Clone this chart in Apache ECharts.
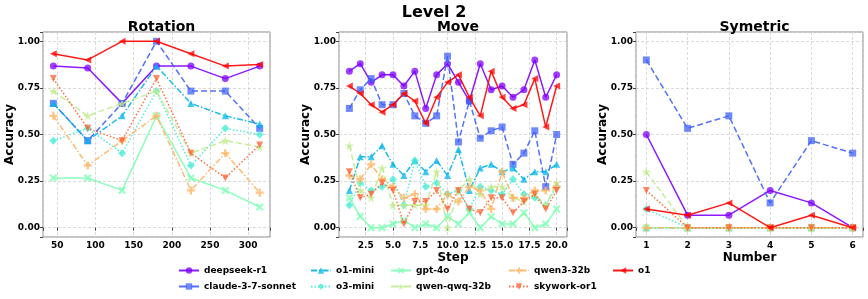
<!DOCTYPE html>
<html><head><meta charset="utf-8">
<script src="https://cdn.jsdelivr.net/npm/echarts@6/dist/echarts.min.js"></script>
<style>html,body{margin:0;padding:0;background:#fff}#c{width:868px;height:299px}</style>
</head><body><div id="c"></div>
<script>
const models = ['deepseek-r1','claude-3-7-sonnet','o1-mini','o3-mini','gpt-4o','qwen-qwq-32b','qwen3-32b','skywork-or1','o1'];
const rotationX = [45, 90, 135, 180, 225, 270, 315];
const moveX = [1,2,3,4,5,6,7,8,9,10,11,12,13,14,15,16,17,18,19,20];
const symX = [1,2,3,4,5,6];

const rotDeepseek = [0.867,0.857,0.667,0.867,0.867,0.8,0.867];
const rotClaude   = [0.667,0.467,0.667,1.0,0.733,0.733,0.533];
const rotO1mini   = [0.667,0.467,0.6,0.867,0.667,0.6,0.556];
const rotO3mini   = [0.467,0.533,0.4,0.733,0.333,0.533,0.5];
const rotGpt4o    = [0.267,0.267,0.2,0.6,0.267,0.2,0.111];
const rotQwq      = [0.733,0.6,0.667,0.733,0.4,0.467,0.433];
const rotQwen3    = [0.6,0.333,0.467,0.6,0.2,0.4,0.188];
const rotSkywork  = [0.8,0.533,0.467,0.8,0.4,0.267,0.444];
const rotO1       = [0.933,0.9,1.0,1.0,0.933,0.867,0.875];

const movDeepseek = [0.84,0.88,0.78,0.82,0.82,0.76,0.84,0.64,0.82,0.88,0.78,0.68,0.88,0.74,0.76,0.70,0.74,0.90,0.70,0.82];
const movClaude   = [0.64,0.74,0.80,0.66,0.66,0.72,0.60,0.56,0.60,0.92,0.46,0.68,0.48,0.52,0.54,0.34,0.40,0.52,0.22,0.50];
const movO1mini   = [0.20,0.38,0.38,0.44,0.34,0.28,0.36,0.30,0.36,0.28,0.42,0.20,0.32,0.34,0.30,0.32,0.26,0.30,0.30,0.34];
const movO3mini   = [0.12,0.24,0.20,0.22,0.26,0.12,0.36,0.22,0.24,0.18,0.20,0.10,0.22,0.20,0.18,0.26,0.18,0.16,0.12,0.22];
const movGpt4o    = [0.16,0.06,0.00,0.00,0.02,0.04,0.00,0.02,0.00,0.06,0.02,0.08,0.00,0.06,0.02,0.02,0.08,0.00,0.02,0.10];
const movQwq      = [0.44,0.20,0.16,0.32,0.12,0.12,0.12,0.12,0.30,0.00,0.20,0.26,0.18,0.22,0.22,0.16,0.14,0.18,0.12,0.24];
const movQwen3    = [0.28,0.26,0.34,0.26,0.22,0.16,0.18,0.10,0.10,0.18,0.14,0.22,0.20,0.10,0.30,0.16,0.16,0.20,0.20,0.22];
const movSkywork  = [0.30,0.16,0.18,0.24,0.20,0.02,0.14,0.14,0.20,0.10,0.20,0.10,0.08,0.16,0.16,0.08,0.14,0.18,0.10,0.20];
const movO1       = [0.76,0.72,0.66,0.62,0.66,0.72,0.68,0.56,0.70,0.78,0.82,0.70,0.60,0.84,0.70,0.64,0.66,0.80,0.54,0.76];

const symDeepseek = [0.5,0.067,0.067,0.2,0.133,0];
const symClaude   = [0.9,0.533,0.6,0.133,0.467,0.4];
const symO1mini   = [0,0,0,0,0,0];
const symO3mini   = [0.1,0,0,0,0,0];
const symGpt4o    = [0,0,0,0,0,0];
const symQwq      = [0.3,0,0,0,0,0];
const symQwen3    = [0,0,0,0,0,0];
const symSkywork  = [0.2,0,0,0,0,0];
const symO1       = [0.1,0.067,0.133,0,0.067,0];

const panelTitles = ['Rotation', 'Move', 'Symetric'];

const rotData = [rotDeepseek,rotClaude,rotO1mini,rotO3mini,rotGpt4o,rotQwq,rotQwen3,rotSkywork,rotO1];
const movData = [movDeepseek,movClaude,movO1mini,movO3mini,movGpt4o,movQwq,movQwen3,movSkywork,movO1];
const symData = [symDeepseek,symClaude,symO1mini,symO3mini,symGpt4o,symQwq,symQwen3,symSkywork,symO1];

const colors = ['#8000ff','#4062fa','#00b4eb','#40ecd4','#80ffb4','#c0eb8e','#ffb462','#ff6232','#ff0000'];
const X_PATH = 'path://M0,2 L2,0 L5,3 L8,0 L10,2 L7,5 L10,8 L8,10 L5,7 L2,10 L0,8 L3,5 Z';
const P_PATH = 'path://M3.5,0 H6.5 V3.5 H10 V6.5 H6.5 V10 H3.5 V6.5 H0 V3.5 H3.5 Z';
const STAR_PATH = 'path://M5,0 L6.2,3.6 L10,3.8 L7,6.1 L8.1,9.8 L5,7.6 L1.9,9.8 L3,6.1 L0,3.8 L3.8,3.6 Z';
const styles = [
  {sym:'circle', rot:0, type:'solid', size:7},
  {sym:'rect', rot:0, type:'dashed', size:7},
  {sym:'triangle', rot:0, type:[6,2,1.5,2], size:7},
  {sym:'diamond', rot:0, type:[1.5,2], size:8},
  {sym:X_PATH, rot:0, type:'solid', size:8},
  {sym:STAR_PATH, rot:0, type:'dashed', size:9},
  {sym:P_PATH, rot:0, type:[6,2,1.5,2], size:8},
  {sym:'triangle', rot:180, type:[1.5,2], size:7},
  {sym:'triangle', rot:90, type:'solid', size:7}
];

const F = 'DejaVu Sans';
const grids = [
  {left:43, top:32, width:227, height:205},
  {left:339, top:32, width:228, height:205},
  {left:636, top:32, width:227, height:205}
];
const xCfg = [
  {min:31.5, max:328.5, iv:50, dec:0, name:''},
  {min:0.05, max:20.95, iv:2.5, dec:1, name:'Step'},
  {min:0.75, max:6.25, iv:1, dec:0, name:'Number'}
];
function isMult(v, iv){ const r = v/iv; return Math.abs(r-Math.round(r))<1e-6; }

const xAxis = xCfg.map((c,i)=>({
  type:'value', gridIndex:i, min:c.min, max:c.max, minInterval:c.iv, maxInterval:c.iv,
  name:c.name, nameLocation:'middle', nameGap:15, nameMoveOverlap:false,
  nameTextStyle:{fontFamily:F, fontWeight:'bold', fontSize:12, color:'#000'},
  axisLine:{show:false}, axisTick:{show:true, length:3, lineStyle:{color:'#444'}},
  axisLabel:{fontFamily:F, fontWeight:'bold', fontSize:9, color:'#000', margin:4,
    formatter:v=> isMult(v,c.iv) ? v.toFixed(c.dec) : ''},
  splitLine:{show:true, lineStyle:{color:'#d0d0d0', type:[3,2], width:0.8}}
}));
const yAxis = [0,1,2].map(i=>({
  type:'value', gridIndex:i, min:-0.05, max:1.05, minInterval:0.25, maxInterval:0.25,
  name:'Accuracy', nameLocation:'middle', nameGap:27, nameMoveOverlap:false,
  nameTextStyle:{fontFamily:F, fontWeight:'bold', fontSize:12, color:'#000'},
  axisLine:{show:false}, axisTick:{show:true, length:3, lineStyle:{color:'#444'}},
  axisLabel:{fontFamily:F, fontWeight:'bold', fontSize:9, color:'#000', margin:3,
    formatter:v=> isMult(v,0.25) ? v.toFixed(2) : ''},
  splitLine:{show:true, lineStyle:{color:'#d0d0d0', type:[3,2], width:0.8}}
}));

const series = [];
const panels = [[rotationX, rotData],[moveX, movData],[symX, symData]];
panels.forEach((p,gi)=>{
  const xs = p[0];
  models.forEach((m,k)=>{
    const st = styles[k];
    series.push({
      name:m, type:'line', xAxisIndex:gi, yAxisIndex:gi,
      data: xs.map((x,j)=>[x, p[1][k][j]]),
      symbol: st.sym, symbolRotate: st.rot, symbolSize: st.size, showSymbol:true,
      z: 2 + k,
      color: colors[k],
      lineStyle:{color:colors[k], width:1.5, type:st.type, opacity:0.9},
      itemStyle:{color:colors[k], opacity:0.75, borderWidth:0},
      emphasis:{disabled:true}, animation:false
    });
  });
});

const legCols = [[0,1,178],[2,3,310],[4,5,390],[6,7,508],[8,null,612]];
const legend = legCols.map(c=>({
  left:c[2], top:266, height:30, padding:0, orient:'vertical', itemWidth:20, itemHeight:8, itemGap:7,
  data:[models[c[0]]].concat(c[1]!==null?[models[c[1]]]:[]),
  textStyle:{fontFamily:F, fontWeight:'bold', fontSize:9, color:'#000'},
  selectedMode:false
}));

const title = [{text:'Level 2', left:'center', top:0, textStyle:{fontFamily:F, fontWeight:'bold', fontSize:16, color:'#000'}}]
  .concat(grids.map((g,i)=>({text:panelTitles[i], left:g.left+g.width/2, top:15, textAlign:'center',
    textStyle:{fontFamily:F, fontWeight:'bold', fontSize:14, color:'#000'}})));

const chart = echarts.init(document.getElementById('c'), null, {renderer:'canvas'});
chart.setOption({
  animation:false,
  title: title,
  legend: legend,
  grid: grids.map(g=>Object.assign({show:true, borderColor:'#888', borderWidth:1, backgroundColor:'transparent'}, g)),
  xAxis: xAxis, yAxis: yAxis, series: series
});
</script></body></html>
